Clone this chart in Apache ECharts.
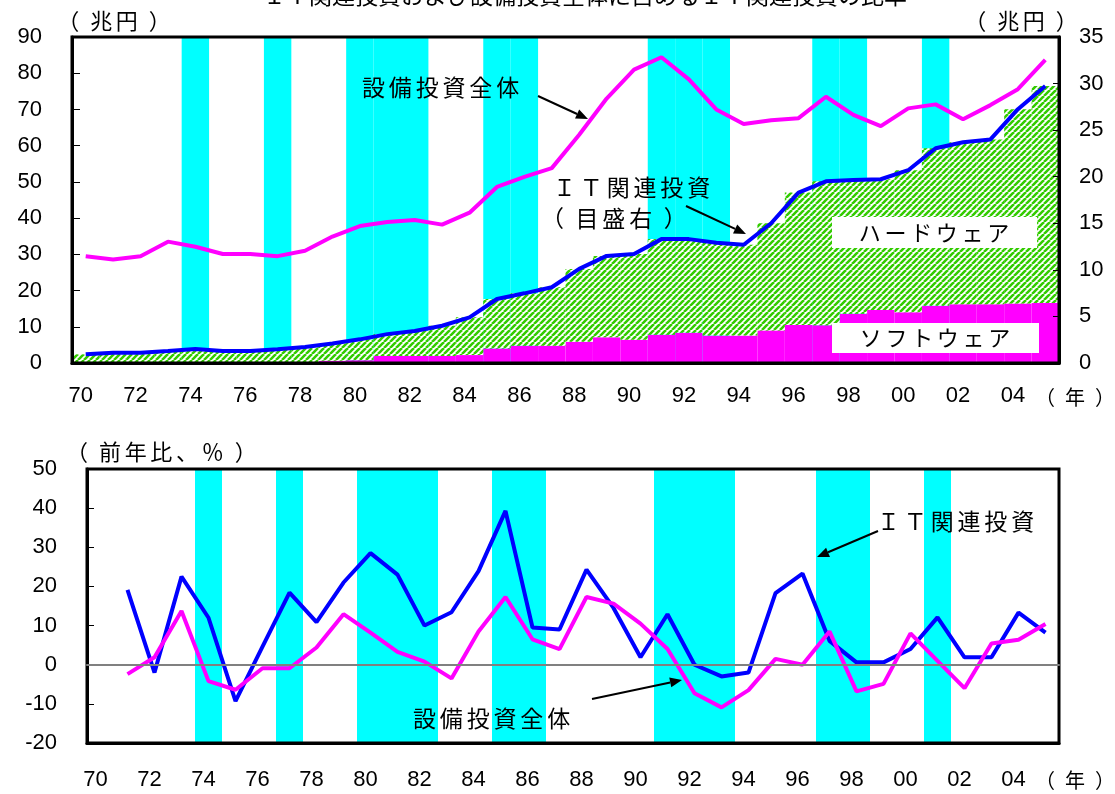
<!DOCTYPE html>
<html>
<head>
<meta charset="utf-8">
<script src="https://cdn.jsdelivr.net/npm/echarts@6/dist/echarts.min.js"></script>
<style>
  html, body { margin: 0; padding: 0; background: #fff; }
  #chart { width: 1115px; height: 794px; }
</style>
</head>
<body>
<div id="chart"></div>
<script>
// Fiscal years 1970-2005 (two-digit labels)
const years = ['70','71','72','73','74','75','76','77','78','79',
               '80','81','82','83','84','85','86','87','88','89',
               '90','91','92','93','94','95','96','97','98','99',
               '00','01','02','03','04','05'];

// Recession years (shaded)
const recessionYears = ['74','77','80','81','82','85','86','91','92','93','97','98','01'];

// Total capital investment, trillion yen (left axis)
const capexTotal = [29.5, 28.6, 29.5, 33.5, 32.1, 30.1, 30.1, 29.5, 31.0, 34.9,
                    37.8, 38.9, 39.5, 38.2, 41.5, 48.6, 51.4, 53.8, 63.0, 73.0,
                    81.0, 84.4, 78.3, 70.0, 66.0, 67.0, 67.6, 73.5, 68.5, 65.4,
                    70.3, 71.4, 67.3, 71.2, 75.6, 83.7];

// IT-related investment, trillion yen (right axis)
const itTotal = [0.93, 1.10, 1.10, 1.29, 1.50, 1.29, 1.29, 1.47, 1.72, 2.10,
                 2.54, 3.10, 3.44, 4.00, 4.90, 6.87, 7.48, 8.13, 10.10, 11.50,
                 11.70, 13.30, 13.30, 12.90, 12.70, 15.00, 18.30, 19.50, 19.66, 19.73,
                 20.70, 23.06, 23.70, 24.00, 27.25, 29.75];
const itSoftware = [0, 0, 0, 0, 0, 0, 0, 0, 0, 0.25,
                    0.30, 0.75, 0.75, 0.75, 0.85, 1.57, 1.86, 1.86, 2.29, 2.76,
                    2.50, 3.04, 3.26, 2.94, 2.94, 3.50, 4.08, 4.05, 5.30, 5.70,
                    5.45, 6.15, 6.30, 6.30, 6.40, 6.45];
const itHardware = [0.93, 1.10, 1.10, 1.29, 1.50, 1.29, 1.29, 1.47, 1.72, 1.85,
                    2.24, 2.35, 2.69, 3.25, 4.05, 5.30, 5.62, 6.27, 7.81, 8.74,
                    9.20, 10.26, 10.04, 9.96, 9.76, 11.50, 14.22, 15.45, 14.36, 14.03,
                    15.25, 16.91, 17.40, 17.70, 20.85, 23.30];

// Year-on-year growth, %
const itGrowth = [null, 19.1, -2.0, 22.5, 12.0, -9.3, 4.6, 18.4, 10.9, 21.0,
                  28.5, 23.0, 10.0, 13.4, 23.9, 39.3, 9.5, 9.0, 24.3, 14.5,
                  1.9, 12.9, 0.0, -3.0, -2.0, 18.3, 23.3, 6.1, 0.6, 0.6,
                  4.0, 12.1, 1.9, 1.9, 13.3, 8.2];
const capexGrowth = [null, -2.4, 1.9, 13.7, -4.2, -6.4, -0.9, -0.9, 4.4, 12.9,
                     8.2, 3.3, 0.8, -3.5, 8.5, 17.3, 6.5, 4.0, 17.3, 15.6,
                     10.5, 4.0, -7.3, -10.9, -6.5, 1.5, 0.0, 8.5, -6.8, -4.9,
                     8.0, 1.0, -6.0, 5.4, 6.4, 10.4];

const NUM_FONT = "'Liberation Sans', Arial, sans-serif";
const JP_FONT = "'Noto Sans CJK JP', sans-serif";
const CYAN = '#00ffff', MAGENTA = '#ff00ff', BLUE = '#0000ff';

// white tile with green "/" stripes for the hardware bars
function hatchTile() {
  const s = 6, c = document.createElement('canvas');
  c.width = c.height = s;
  const g = c.getContext('2d');
  g.fillStyle = '#fff';
  g.fillRect(0, 0, s, s);
  g.strokeStyle = '#33cc00';
  g.lineWidth = 2.6;
  g.beginPath();
  for (const o of [-s, 0, s]) { g.moveTo(o, s); g.lineTo(o + s, 0); }
  g.stroke();
  return c;
}

// wider character pitch, as in the annotation lettering
function spaced(s) { return Array.from(s).join('\u2006'); }
// bracketed unit labels with loose parentheses
function bracketed(s) { return '（\u2002' + spaced(s) + '\u2002）'; }

function label(text, x, y, size, align) {
  return {
    type: 'text', z: 100, x: x, y: y,
    style: { text: text, font: size + 'px ' + JP_FONT, fill: '#000',
             textAlign: align || 'left', textVerticalAlign: 'middle' }
  };
}

function arrow(x1, y1, x2, y2) {
  const a = Math.atan2(y2 - y1, x2 - x1), L = 12, W = 5;
  const bx = x2 - L * Math.cos(a), by = y2 - L * Math.sin(a);
  const px = -Math.sin(a) * W, py = Math.cos(a) * W;
  return [
    { type: 'line', z: 100, shape: { x1: x1, y1: y1, x2: bx, y2: by },
      style: { stroke: '#000', lineWidth: 2 } },
    { type: 'polygon', z: 100,
      shape: { points: [[x2, y2], [bx + px, by + py], [bx - px, by - py]] },
      style: { fill: '#000' } }
  ];
}

function box(x, y, w, h) {
  return { type: 'rect', z: 99, shape: { x: x, y: y, width: w, height: h },
           style: { fill: '#fff' } };
}

const recTop = years.map(y => recessionYears.includes(y) ? 90 : null);
const recUp = years.map(y => recessionYears.includes(y) ? 50 : null);
const recDown = years.map(y => recessionYears.includes(y) ? -20 : null);

const numLabel = { fontSize: 22, color: '#000', fontFamily: NUM_FONT };

const chart = echarts.init(document.getElementById('chart'), null, { renderer: 'canvas' });

chart.setOption({
  animation: false,
  backgroundColor: '#fff',
  grid: [
    { left: 72, right: 56, top: 37, height: 326, show: true, z: 10,
      borderColor: '#000', borderWidth: 3, backgroundColor: 'transparent' },
    { left: 87, right: 56, top: 469, height: 274, show: true, z: 10,
      borderColor: '#000', borderWidth: 3, backgroundColor: 'transparent' }
  ],
  xAxis: [
    { gridIndex: 0, type: 'category', data: years, boundaryGap: true, z: 10,
      axisLine: { onZero: false, lineStyle: { color: '#000', width: 3 } },
      axisTick: { inside: true, length: 6, interval: 0, lineStyle: { color: '#000', width: 1 } },
      axisLabel: Object.assign({ interval: 1, margin: 22, padding: [0, 10, 0, 0] }, numLabel) },
    { gridIndex: 1, type: 'category', data: years, boundaryGap: true, position: 'bottom', z: 10,
      axisLine: { onZero: false, lineStyle: { color: '#000', width: 3 } },
      axisTick: { show: false },
      axisLabel: Object.assign({ interval: 1, margin: 26, padding: [0, 10, 0, 0] }, numLabel) },
    { gridIndex: 1, type: 'category', data: years, boundaryGap: true, position: 'bottom', z: 11,
      axisLine: { onZero: true, lineStyle: { color: '#808080', width: 2 } },
      axisTick: { inside: true, length: 7, interval: 0, lineStyle: { color: '#808080', width: 1 } },
      axisLabel: { show: false } }
  ],
  yAxis: [
    { gridIndex: 0, type: 'value', position: 'left', min: 0, max: 90, interval: 10, z: 10,
      axisLine: { show: true, lineStyle: { color: '#000', width: 3 } },
      axisTick: { show: true, inside: true, length: 8, lineStyle: { color: '#000' } },
      axisLabel: Object.assign({ margin: 30 }, numLabel),
      splitLine: { show: false } },
    { gridIndex: 0, type: 'value', position: 'right', min: 0, max: 35, interval: 5, z: 10,
      axisLine: { show: true, lineStyle: { color: '#000', width: 3 } },
      axisTick: { show: true, inside: true, length: 6, lineStyle: { color: '#000' } },
      axisLabel: Object.assign({ margin: 20 }, numLabel),
      splitLine: { show: false } },
    { gridIndex: 1, type: 'value', position: 'left', min: -20, max: 50, interval: 10, z: 10,
      axisLine: { show: true, lineStyle: { color: '#000', width: 3 } },
      axisTick: { show: true, inside: true, length: 7, lineStyle: { color: '#000' } },
      axisLabel: Object.assign({ margin: 30 }, numLabel),
      splitLine: { show: false } }
  ],
  series: [
    { name: '景気後退', type: 'bar', xAxisIndex: 0, yAxisIndex: 0, data: recTop, silent: true,
      itemStyle: { color: CYAN }, barGap: '-100%', barCategoryGap: '0%', z: 1 },
    { name: 'ソフトウェア', type: 'bar', xAxisIndex: 0, yAxisIndex: 1, stack: 'it', data: itSoftware,
      itemStyle: { color: MAGENTA }, barGap: '-100%', barCategoryGap: '0%', z: 2 },
    { name: 'ハードウェア', type: 'bar', xAxisIndex: 0, yAxisIndex: 1, stack: 'it', data: itHardware,
      itemStyle: { color: { image: hatchTile(), repeat: 'repeat' } },
      barGap: '-100%', barCategoryGap: '0%', z: 2 },
    { name: 'ＩＴ関連投資', type: 'line', xAxisIndex: 0, yAxisIndex: 1, data: itTotal,
      symbol: 'none', lineStyle: { color: BLUE, width: 4 }, z: 5 },
    { name: '設備投資全体', type: 'line', xAxisIndex: 0, yAxisIndex: 0, data: capexTotal,
      symbol: 'none', lineStyle: { color: MAGENTA, width: 4 }, z: 5 },

    { name: '景気後退(上)', type: 'bar', xAxisIndex: 1, yAxisIndex: 2, stack: 'rec', data: recUp,
      silent: true, itemStyle: { color: CYAN }, barGap: '-100%', barCategoryGap: '0%', z: 1 },
    { name: '景気後退(下)', type: 'bar', xAxisIndex: 1, yAxisIndex: 2, stack: 'rec', data: recDown,
      silent: true, itemStyle: { color: CYAN }, barGap: '-100%', barCategoryGap: '0%', z: 1 },
    { name: 'ＩＴ関連投資(前年比)', type: 'line', xAxisIndex: 1, yAxisIndex: 2, data: itGrowth,
      symbol: 'none', lineStyle: { color: BLUE, width: 4 }, z: 5 },
    { name: '設備投資全体(前年比)', type: 'line', xAxisIndex: 1, yAxisIndex: 2, data: capexGrowth,
      symbol: 'none', lineStyle: { color: MAGENTA, width: 4 }, z: 5 }
  ],
  graphic: [
    { type: 'text', z: 100, x: 585, y: -16,
      style: { text: 'ＩＴ関連投資および設備投資全体に占めるＩＴ関連投資の比率',
               font: '23px ' + JP_FONT, fill: '#000', textAlign: 'center', textVerticalAlign: 'top' } },
    label(bracketed('兆円'), 114, 21, 22, 'center'),
    label(bracketed('兆円'), 1021, 21, 22, 'center'),
    label(spaced('設備投資全体'), 362, 87, 23),
    ...arrow(538, 96, 588, 119),
    label(spaced('ＩＴ関連投資'), 553, 187, 23),
    label(bracketed('目盛右'), 541, 218, 23),
    ...arrow(686, 206, 746, 234),
    box(832, 217, 205, 31),
    label(spaced('ハードウェア'), 934, 233, 22, 'center'),
    box(832, 323, 207, 30),
    label(spaced('ソフトウェア'), 935, 338, 22, 'center'),
    label(bracketed('年'), 1075, 397, 20, 'center'),

    label(bracketed('前年比、％'), 66, 452, 22),
    label(spaced('ＩＴ関連投資'), 877, 521, 23),
    ...arrow(878, 531, 817, 557),
    label(spaced('設備投資全体'), 413, 718, 23),
    ...arrow(592, 699, 682, 680),
    label(bracketed('年'), 1075, 780, 20, 'center')
  ]
});
</script>
</body>
</html>
